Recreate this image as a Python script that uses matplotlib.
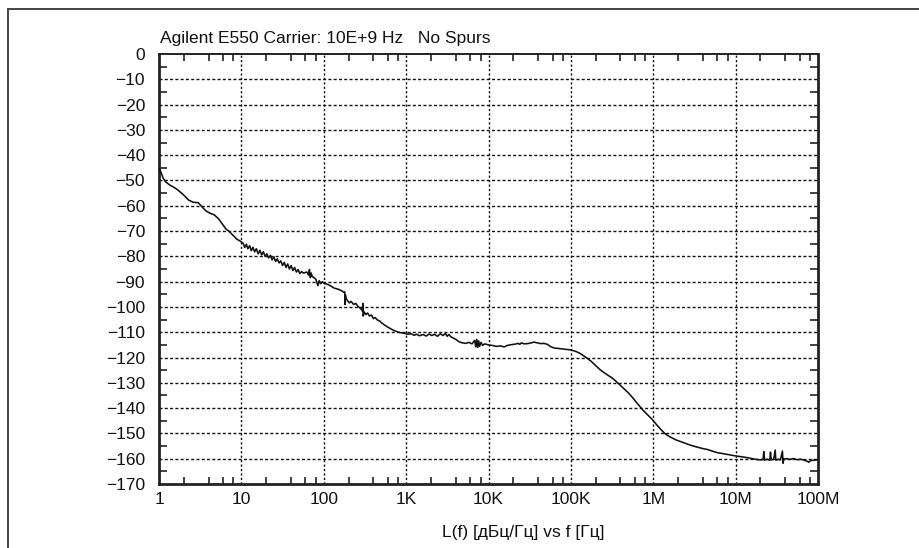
import matplotlib
matplotlib.use("Agg")
import matplotlib.pyplot as plt
from matplotlib.lines import Line2D
from matplotlib.ticker import FixedLocator, NullFormatter

plt.rcParams['font.family'] = ['Liberation Sans', 'DejaVu Sans']

# ---- data ----
freq_hz = [
    1.0, 1.05, 1.12, 1.2, 1.35, 1.5, 1.7, 2.0, 2.3, 2.6, 3.0, 3.3, 3.7, 4.2, 4.7,
    5.3, 5.9, 6.5, 7.2, 8.0, 8.8, 9.5, 10.5,
    11, 11.5, 12, 12.6, 13.2, 13.8, 14.5, 15.2, 16, 16.8, 17.6, 18.5, 19.4, 20.4,
    21.4, 22.5, 23.6, 24.8, 26, 27.3, 28.7, 30.1, 31.6, 33.2, 34.8, 36.5, 38.3,
    40.2, 42.2, 44.3, 46.5, 48.8, 51.2, 53.8, 56.5, 59.3, 62.3, 65.4, 67, 68.7,
    70.5, 72.5, 76, 80, 85, 88, 92, 96,
    100, 110, 120, 135, 150, 165, 175, 180, 181, 183, 188, 195, 205, 215, 230,
    245, 260, 280, 295, 298, 301, 310, 325, 340, 360, 380, 400, 420, 450, 480,
    500, 550, 600, 650, 700, 780, 860, 950,
    1050, 1150, 1250, 1350, 1450, 1600, 1750, 1900, 2050, 2200, 2400, 2600, 2800,
    3000, 3150, 3300, 3500, 3700, 4000, 4400, 4800, 5300, 5800, 6300, 6800, 7000,
    7200, 7400, 7600, 7800, 8100, 8500, 9000,
    10e3, 11e3, 12.5e3, 14e3, 15.5e3, 17e3, 19e3, 21e3, 23e3, 24e3, 25e3, 27e3,
    30e3, 33e3, 36e3, 39e3, 43e3, 47e3, 52e3, 56e3, 62e3, 70e3, 80e3, 90e3,
    100e3, 115e3, 130e3, 150e3, 175e3, 200e3, 230e3, 270e3, 320e3, 370e3, 430e3,
    500e3, 570e3, 650e3, 750e3, 850e3, 980e3,
    1.1e6, 1.25e6, 1.4e6, 1.6e6, 1.9e6, 2.3e6, 2.8e6, 3.4e6, 4.0e6, 4.6e6, 5.2e6,
    6.0e6, 7.0e6, 8.5e6,
    10e6, 12e6, 14e6, 16e6, 18e6, 20e6, 21.5e6, 22e6, 22.5e6, 24e6, 26e6, 26.5e6,
    27e6, 29e6, 30.2e6, 30.8e6, 33e6, 35e6, 37e6, 37.6e6, 38.5e6, 42e6, 46e6,
    50e6, 56e6, 62e6, 68e6, 74e6, 77e6, 82e6, 90e6, 100e6,
]
noise_dbc = [
    -45.0, -46.5, -49.0, -50.5, -51.8, -52.6, -53.8, -55.8, -57.8, -58.6, -58.8,
    -60.3, -62.0, -63.0, -63.6, -65.2, -67.3, -69.2, -70.3, -71.8, -73.2, -73.8,
    -74.8,
    -76.5, -75.2, -77.0, -75.8, -77.8, -76.4, -78.2, -77.0, -79.0, -77.6, -79.4,
    -78.2, -80.0, -79.0, -80.6, -79.6, -81.4, -80.2, -82.0, -81.0, -82.6, -81.8,
    -83.6, -82.4, -84.4, -83.0, -85.0, -83.6, -85.6, -84.4, -86.2, -85.2, -86.8,
    -86.0, -86.6, -86.4, -86.2, -87.4, -85.2, -88.4, -86.6, -88.0, -88.4, -89.0,
    -91.6, -89.6, -90.8, -90.0,
    -90.6, -91.0, -91.6, -92.6, -93.0, -93.6, -94.2, -94.0, -99.0, -95.2, -96.8,
    -97.6, -98.4, -97.8, -99.0, -98.6, -99.8, -100.6, -101.6, -98.6, -103.6,
    -102.0, -103.0, -102.4, -103.6, -103.2, -104.6, -104.2, -105.2, -105.6,
    -106.2, -107.2, -108.0, -108.6, -109.2, -109.8, -110.2, -110.4,
    -110.8, -110.6, -111.2, -110.8, -111.4, -110.9, -111.5, -110.7, -111.3,
    -110.8, -111.6, -110.6, -111.3, -110.5, -111.6, -110.9, -111.8, -112.2,
    -112.8, -113.8, -114.2, -114.4, -114.0, -114.6, -113.2, -115.8, -112.8,
    -116.0, -113.4, -115.6, -114.0, -115.2, -114.6,
    -115.0, -115.2, -115.6, -115.4, -115.8, -115.2, -114.9, -114.7, -114.4,
    -114.8, -114.2, -114.6, -114.5, -114.2, -113.9, -114.2, -114.5, -114.4,
    -114.8, -115.6, -116.2, -116.4, -116.6, -116.8,
    -117.0, -117.6, -118.4, -119.8, -121.4, -123.2, -125.0, -126.6, -128.2,
    -130.0, -132.0, -134.0, -136.1, -138.4, -140.8, -142.6, -144.6,
    -146.6, -148.6, -150.2, -151.4, -152.6, -153.6, -154.6, -155.4, -156.0,
    -156.4, -157.0, -157.6, -158.0, -158.5,
    -158.9, -159.3, -159.6, -160.0, -160.3, -160.5, -160.3, -157.2, -160.6,
    -160.2, -160.6, -157.4, -160.4, -160.3, -156.6, -160.6, -160.2, -160.5,
    -157.0, -161.8, -160.2, -160.0, -160.3, -159.9, -160.4, -160.2, -160.6,
    -161.0, -161.4, -160.7, -160.6, -160.4,
]
x_major = [1, 10, 100, 1e3, 1e4, 1e5, 1e6, 1e7, 1e8]
x_major_labels = ['1', '10', '100', '1K', '10K', '100K', '1M', '10M', '100M']
x_minor_mult = [2, 4, 6, 8]
y_major = list(range(0, -171, -10))
y_minor = list(range(-5, -170, -10))
title_text = 'Agilent E550 Carrier: 10E+9 Hz   No Spurs'
xlabel_text = 'L(f) [дБц/Гц] vs f [Гц]'

FS = 12.5

# ---- figure ----
W, H = 919, 548
fig = plt.figure(figsize=(W / 100, H / 100), dpi=100)
L, R, T, B = 159, 818, 54, 484
ax = fig.add_axes([L / W, 1 - B / H, (R - L) / W, (B - T) / H])

ax.plot(freq_hz, noise_dbc, color='#111111', lw=1.15, zorder=3)

ax.set_xscale('log')
ax.set_xlim(1, 1e8)
ax.set_ylim(-170, 0)

ax.xaxis.set_major_locator(FixedLocator(x_major))
ax.set_xticklabels(x_major_labels)
minor_x = [d * m for d in x_major[:-1] for m in x_minor_mult]
ax.xaxis.set_minor_locator(FixedLocator(minor_x))
ax.xaxis.set_minor_formatter(NullFormatter())

ax.yaxis.set_major_locator(FixedLocator(y_major))
ax.set_yticklabels([('\u2212' + str(-v)) if v < 0 else str(v) for v in y_major])
ax.yaxis.set_minor_locator(FixedLocator(y_minor))

ax.tick_params(axis='x', which='major', direction='in', length=0, pad=6,
               labelsize=FS, top=True, labelcolor='#111111')
ax.tick_params(axis='x', which='minor', direction='in', length=5, width=1.2,
               top=True, bottom=True, color='#222222')
ax.tick_params(axis='y', which='major', direction='in', length=0, pad=10,
               labelsize=FS, right=True, labelcolor='#111111')
ax.tick_params(axis='y', which='minor', direction='in', length=6, width=1.2,
               left=True, right=True, color='#222222')

# grid
for v in y_major[1:-1]:
    ax.axhline(v, color='#111111', lw=1.0, ls=(0, (2.2, 1.6)), zorder=1)
for v in x_major[1:-1]:
    ax.axvline(v, color='#111111', lw=1.0, ls=(0, (1.6, 1.6)), zorder=1)

for side, lw in [('left', 2.0), ('bottom', 2.0), ('right', 2.0), ('top', 1.4)]:
    ax.spines[side].set_linewidth(lw)
    ax.spines[side].set_color('#222222')

fig.text(160 / W, 1 - 42.5 / H, title_text, fontsize=FS, ha='left',
         va='baseline', color='#111111')
fig.text(442 / W, 1 - 536.5 / H, xlabel_text, fontsize=FS, ha='left',
         va='baseline', color='#111111')

# outer frame (top and left edges)
fig.add_artist(Line2D([8 / W, 1], [1 - 9 / H, 1 - 9 / H], color='#444444',
                      lw=1.4, transform=fig.transFigure))
fig.add_artist(Line2D([8 / W, 8 / W], [0, 1 - 9 / H], color='#444444',
                      lw=1.4, transform=fig.transFigure))

fig.savefig('out.png', dpi=100)
